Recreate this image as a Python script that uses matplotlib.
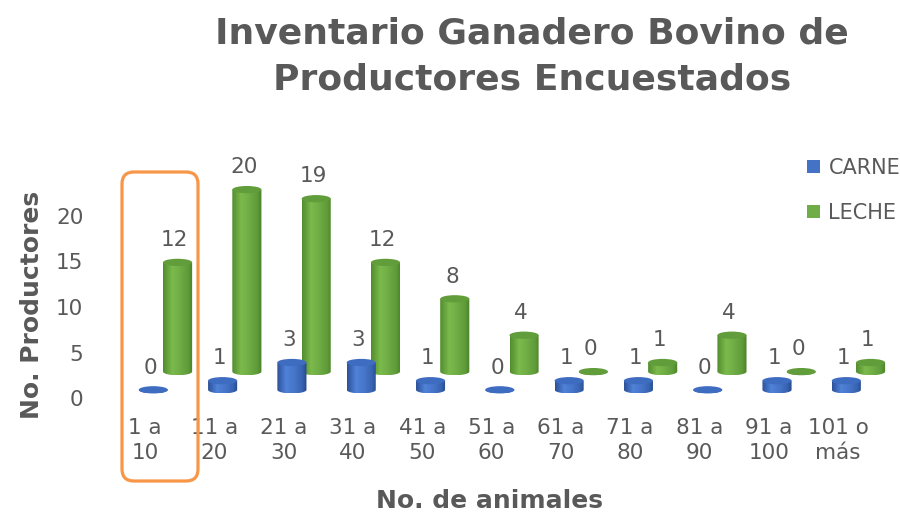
import numpy as np
import matplotlib
matplotlib.use("Agg")
import matplotlib.pyplot as plt
from matplotlib.colors import LinearSegmentedColormap
from matplotlib.patches import Ellipse, Polygon, Patch, FancyBboxPatch

# Datos
categorias = ["1 a\n10", "11 a\n20", "21 a\n30", "31 a\n40", "41 a\n50", "51 a\n60",
              "61 a\n70", "71 a\n80", "81 a\n90", "91 a\n100", "101 o\nmás"]
carne = [0, 1, 3, 3, 1, 0, 1, 1, 0, 1, 1]
leche = [12, 20, 19, 12, 8, 4, 0, 1, 4, 0, 1]

GRIS = "#595959"
plt.rcParams["font.family"] = "DejaVu Sans"

fig = plt.figure(figsize=(9, 5.12), dpi=100, facecolor="white")
ax = fig.add_axes([0.1226, 0.1871, 0.847, 0.4799])
ax.set_facecolor("none")

cmap_azul = LinearSegmentedColormap.from_list(
    "azul", [(0, "#2D5299"), (0.3, "#4F82D8"), (0.55, "#4877CB"), (0.85, "#3763B2"), (1, "#26488A")])
cmap_verde = LinearSegmentedColormap.from_list(
    "verde", [(0, "#528D2E"), (0.3, "#7BBA4C"), (0.55, "#71AE46"), (0.85, "#5F9B39"), (1, "#4B8129")])
grad = np.linspace(0, 1, 64).reshape(1, -1)

ANCHO = 0.42       # ancho del cilindro (unidades x)
ELIPSE = 0.8       # alto de la elipse (unidades y)


def cilindro(xc, base, h, cmap, color_tapa, z):
    x0, x1 = xc - ANCHO / 2, xc + ANCHO / 2
    tope = base + h
    t = np.linspace(0, np.pi, 40)
    arco = list(zip(xc + ANCHO / 2 * np.cos(t), base - ELIPSE / 2 * np.sin(t)))
    contorno = Polygon([(x0, tope), (x1, tope)] + arco, closed=True,
                       transform=ax.transData)
    im = ax.imshow(grad, extent=[x0, x1, base - ELIPSE / 2, tope], aspect="auto",
                   cmap=cmap, origin="lower", zorder=z, interpolation="bilinear")
    im.set_clip_box(fig.bbox)
    im.set_clip_path(contorno)
    ax.add_patch(Ellipse((xc, tope), ANCHO, ELIPSE, facecolor=color_tapa,
                         edgecolor="none", zorder=z + 0.1, clip_on=False))
    return tope


x = np.arange(len(categorias))

# Serie LECHE (fila trasera)
for i, v in enumerate(leche):
    xc = x[i] + 0.47
    tope = cilindro(xc, 2.9, v, cmap_verde, "#619D3A", 2)
    ax.text(xc - 0.04, tope + 2.45, str(v), ha="center", va="center",
            fontsize=15.5, color=GRIS, zorder=5)

# Serie CARNE (fila delantera)
for i, v in enumerate(carne):
    xc = x[i] + 0.12
    tope = cilindro(xc, 0.9, v, cmap_azul, "#3E6CC0", 3)
    ax.text(xc - 0.04, tope + 2.45, str(v), ha="center", va="center",
            fontsize=15.5, color=GRIS, zorder=5)

ax.set_xlim(-0.5, 10.5)
ax.set_ylim(-2, 25)
ax.set_yticks([0, 5, 10, 15, 20])
ax.set_xticks(x)
ax.set_xticklabels(categorias, linespacing=1.3)
ax.tick_params(axis="y", length=0, pad=19.4, labelsize=15.5, labelcolor=GRIS)
ax.tick_params(axis="x", length=0, pad=1.5, labelsize=15.5, labelcolor=GRIS)
for s in ax.spines.values():
    s.set_visible(False)

# Títulos
fig.text(532 / 900, 1 - 17 / 512, "Inventario Ganadero Bovino de\nProductores Encuestados",
         ha="center", va="top", fontsize=26, fontweight="bold", color=GRIS,
         linespacing=1.42)
fig.text(32 / 900, 1 - 305 / 512, "No. Productores", rotation=90, ha="center",
         va="center", fontsize=18, fontweight="bold", color=GRIS)
fig.text(490 / 900, 3.5 / 512, "No. de animales", ha="center", va="baseline",
         fontsize=18, fontweight="bold", color=GRIS)

# Leyenda
handles = [Patch(facecolor="#4472C4", label="CARNE"),
           Patch(facecolor="#70AD47", label="LECHE")]
fig.legend(handles=handles, loc="upper left", bbox_to_anchor=(807 / 900, 1 - 158 / 512),
           frameon=False, borderpad=0, borderaxespad=0, fontsize=15,
           labelcolor=GRIS, handlelength=0.63, handleheight=0.63,
           handletextpad=0.4, labelspacing=1.2)

# Recuadro naranja alrededor de "1 a 10"
caja = FancyBboxPatch((122 / 900, 1 - 481 / 512), 76 / 900, 309 / 512,
                      boxstyle="round,pad=0,rounding_size=0.0133",
                      mutation_aspect=900 / 512, transform=fig.transFigure,
                      facecolor="none", edgecolor="#F79646", linewidth=2.3)
fig.patches.append(caja)

fig.savefig("out.png", dpi=100)
